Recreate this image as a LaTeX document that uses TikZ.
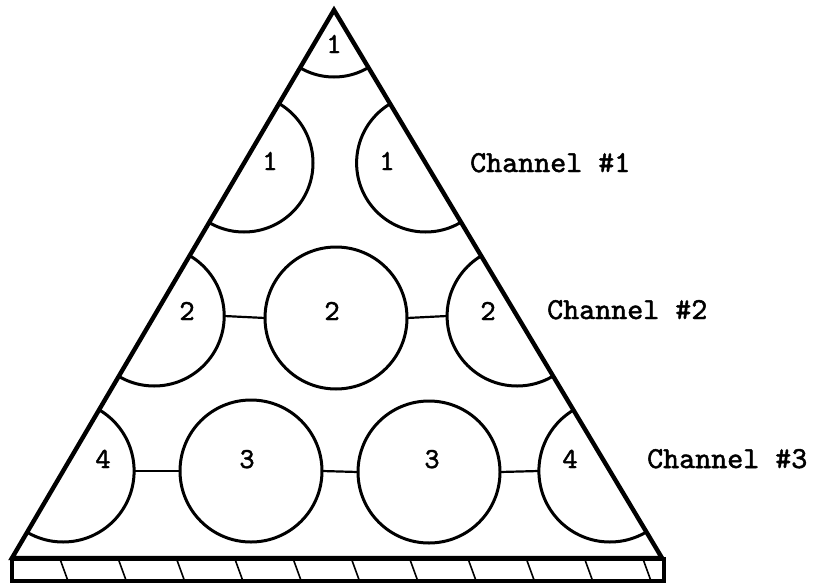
\documentclass[tikz,border=0pt]{standalone}
\usepackage{fontspec}
\newfontfamily\typew{lmmono10-regular.otf}[FakeBold=1.6]
\begin{document}
\begin{tikzpicture}[x=1pt,y=-1pt,
  ring/.style={circle,draw,line width=3pt,inner sep=0pt,outer sep=0pt,minimum size=#1},
  ring/.default=140pt,
  wall/.style={line width=4.4pt,line join=miter},
  base/.style={line width=3.2pt},
  link/.style={line width=2.2pt},
  num/.style={font=\typew\fontsize{29}{30}\selectfont,anchor=base,inner sep=0pt},
  chan/.style={font=\typew\fontsize{30.5}{31}\selectfont,anchor=base west,inner sep=0pt},
  hatch/.style={line width=1.6pt}]
\useasboundingbox (0,0) rectangle (816,586);
\coordinate (A) at (334,10);
\coordinate (L) at (12,558);
\coordinate (R) at (662,558);
\begin{scope}
  \clip (A) -- (L) -- (R) -- cycle;
  \node[ring=134pt] (c0) at (A) {};
  \node[ring=138pt] (c11) at (244,163) {};
  \node[ring=138pt] (c12) at (425.6,163) {};
  \node[ring=140pt] (c20) at (154.2,316) {};
  \node[ring=142pt] (c21) at (336,318) {};
  \node[ring=140pt] (c22) at (517.1,316) {};
  \node[ring=142pt] (c30) at (63.1,471) {};
  \node[ring=142pt] (c31) at (251,471) {};
  \node[ring=142pt] (c32) at (429,472) {};
  \node[ring=142pt] (c33) at (609.9,471) {};
\end{scope}
\draw[link] (c20.east) -- (c21.west);
\draw[link] (c21.east) -- (c22.west);
\draw[link] (c30.east) -- (c31.west);
\draw[link] (c31.east) -- (c32.west);
\draw[link] (c32.east) -- (c33.west);
\draw[wall] (A) -- (L) -- (R) -- cycle;
\draw[base] (12,559) rectangle (664,581);
\foreach \k in {0,...,10} \draw[hatch] ({60+58.3*\k},559) -- ({68+58.3*\k},581);
\node[num] (t0) at (334,53) {1};
\node[num] (t11) at (270,170) {1};
\node[num] (t12) at (387,170) {1};
\node[num] (t21) at (187,320) {2};
\node[num] (t22) at (332,320) {2};
\node[num] (t23) at (488,320) {2};
\node[num] (t31) at (103,468) {4};
\node[num] (t32) at (247,468) {3};
\node[num] (t33) at (432,468) {3};
\node[num] (t34) at (570,468) {4};
\node[chan] (ch1) at (470,172) {Channel \#1};
\node[chan] (ch2) at (547,319) {Channel \#2};
\node[chan] (ch3) at (647,468) {Channel \#3};
\end{tikzpicture}
\end{document}
